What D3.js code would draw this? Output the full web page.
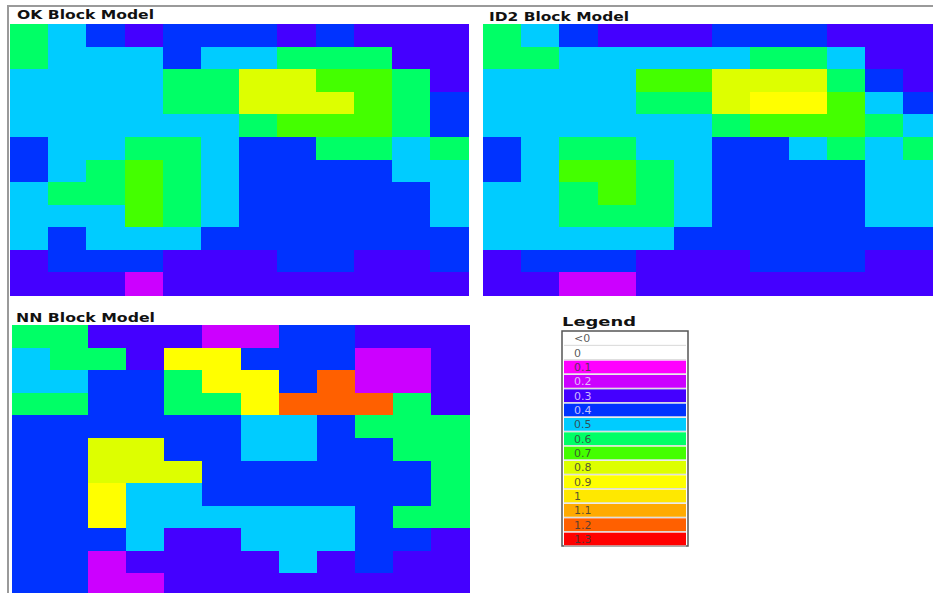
<!DOCTYPE html>
<html>
<head>
<meta charset="utf-8">
<script src="https://cdn.jsdelivr.net/npm/d3@7"></script>
<style>
  body { margin: 0; background: #fff; }
  svg { display: block; }
  .title { font-family: "DejaVu Sans", sans-serif; font-weight: bold; fill: #111; }
  .legend-label { font-family: "DejaVu Sans", sans-serif; font-size: 11px; }
</style>
</head>
<body>
<svg id="chart" width="933" height="593"></svg>
<script>
// grid categories (12 x 12 blocks)
const cols = d3.range(12)
const rows = d3.range(12)

// legend classes, top to bottom
const legendLabels = ['<0', '0', '0.1', '0.2', '0.3', '0.4', '0.5', '0.6', '0.7', '0.8', '0.9', '1', '1.1', '1.2', '1.3']
const legendColors = ['#ffffff', '#ffffff', '#ff00ff', '#cc00ff', '#4400ff', '#0033ff', '#00ccff', '#00ff66',
  '#44ff00', '#ddff00', '#ffff00', '#ffe800', '#ffaa00', '#ff6000', '#ff0000']

// block values, one row per array
const okValues = [
  [0.6, 0.5, 0.4, 0.3, 0.4, 0.4, 0.4, 0.3, 0.4, 0.3, 0.3, 0.3],
  [0.6, 0.5, 0.5, 0.5, 0.4, 0.5, 0.5, 0.6, 0.6, 0.6, 0.3, 0.3],
  [0.5, 0.5, 0.5, 0.5, 0.6, 0.6, 0.8, 0.8, 0.7, 0.7, 0.6, 0.3],
  [0.5, 0.5, 0.5, 0.5, 0.6, 0.6, 0.8, 0.8, 0.8, 0.7, 0.6, 0.4],
  [0.5, 0.5, 0.5, 0.5, 0.5, 0.5, 0.6, 0.7, 0.7, 0.7, 0.6, 0.4],
  [0.4, 0.5, 0.5, 0.6, 0.6, 0.5, 0.4, 0.4, 0.6, 0.6, 0.5, 0.6],
  [0.4, 0.5, 0.6, 0.7, 0.6, 0.5, 0.4, 0.4, 0.4, 0.4, 0.5, 0.5],
  [0.5, 0.6, 0.6, 0.7, 0.6, 0.5, 0.4, 0.4, 0.4, 0.4, 0.4, 0.5],
  [0.5, 0.5, 0.5, 0.7, 0.6, 0.5, 0.4, 0.4, 0.4, 0.4, 0.4, 0.5],
  [0.5, 0.4, 0.5, 0.5, 0.5, 0.4, 0.4, 0.4, 0.4, 0.4, 0.4, 0.4],
  [0.3, 0.4, 0.4, 0.4, 0.3, 0.3, 0.3, 0.4, 0.4, 0.3, 0.3, 0.4],
  [0.3, 0.3, 0.3, 0.2, 0.3, 0.3, 0.3, 0.3, 0.3, 0.3, 0.3, 0.3]
]

const id2Values = [
  [0.6, 0.5, 0.4, 0.3, 0.3, 0.3, 0.4, 0.4, 0.4, 0.3, 0.3, 0.3],
  [0.6, 0.6, 0.5, 0.5, 0.5, 0.5, 0.5, 0.6, 0.6, 0.5, 0.3, 0.3],
  [0.5, 0.5, 0.5, 0.5, 0.7, 0.7, 0.8, 0.8, 0.8, 0.6, 0.4, 0.3],
  [0.5, 0.5, 0.5, 0.5, 0.6, 0.6, 0.8, 0.9, 0.9, 0.7, 0.5, 0.4],
  [0.5, 0.5, 0.5, 0.5, 0.5, 0.5, 0.6, 0.7, 0.7, 0.7, 0.6, 0.5],
  [0.4, 0.5, 0.6, 0.6, 0.5, 0.5, 0.4, 0.4, 0.5, 0.6, 0.5, 0.6],
  [0.4, 0.5, 0.7, 0.7, 0.6, 0.5, 0.4, 0.4, 0.4, 0.4, 0.5, 0.5],
  [0.5, 0.5, 0.6, 0.7, 0.6, 0.5, 0.4, 0.4, 0.4, 0.4, 0.5, 0.5],
  [0.5, 0.5, 0.6, 0.6, 0.6, 0.5, 0.4, 0.4, 0.4, 0.4, 0.5, 0.5],
  [0.5, 0.5, 0.5, 0.5, 0.5, 0.4, 0.4, 0.4, 0.4, 0.4, 0.4, 0.4],
  [0.3, 0.4, 0.4, 0.4, 0.3, 0.3, 0.3, 0.4, 0.4, 0.4, 0.3, 0.3],
  [0.3, 0.3, 0.2, 0.2, 0.3, 0.3, 0.3, 0.3, 0.3, 0.3, 0.3, 0.3]
]

const nnValues = [
  [0.6, 0.6, 0.3, 0.3, 0.3, 0.2, 0.2, 0.4, 0.4, 0.3, 0.3, 0.3],
  [0.5, 0.6, 0.6, 0.3, 0.9, 0.9, 0.4, 0.4, 0.4, 0.2, 0.2, 0.3],
  [0.5, 0.5, 0.4, 0.4, 0.6, 0.9, 0.9, 0.4, 1.2, 0.2, 0.2, 0.3],
  [0.6, 0.6, 0.4, 0.4, 0.6, 0.6, 0.9, 1.2, 1.2, 1.2, 0.6, 0.3],
  [0.4, 0.4, 0.4, 0.4, 0.4, 0.4, 0.5, 0.5, 0.4, 0.6, 0.6, 0.6],
  [0.4, 0.4, 0.8, 0.8, 0.4, 0.4, 0.5, 0.5, 0.4, 0.4, 0.6, 0.6],
  [0.4, 0.4, 0.8, 0.8, 0.8, 0.4, 0.4, 0.4, 0.4, 0.4, 0.4, 0.6],
  [0.4, 0.4, 0.9, 0.5, 0.5, 0.4, 0.4, 0.4, 0.4, 0.4, 0.4, 0.6],
  [0.4, 0.4, 0.9, 0.5, 0.5, 0.5, 0.5, 0.5, 0.5, 0.4, 0.6, 0.6],
  [0.4, 0.4, 0.4, 0.5, 0.3, 0.3, 0.5, 0.5, 0.5, 0.4, 0.4, 0.3],
  [0.4, 0.4, 0.2, 0.3, 0.3, 0.3, 0.3, 0.5, 0.3, 0.4, 0.3, 0.3],
  [0.4, 0.4, 0.2, 0.2, 0.3, 0.3, 0.3, 0.3, 0.3, 0.3, 0.3, 0.3]
]

const color = d3.scaleOrdinal().domain(legendLabels).range(legendColors)

const svg = d3.select('#chart')

// grey frame on the top and the left
svg.append('path')
  .attr('d', 'M8,593V6H933')
  .attr('fill', 'none')
  .attr('stroke', '#9a9a9a')
  .attr('stroke-width', 2)

renderPanel('OK Block Model', okValues, { x0: 10, x1: 468.5, y0: 24, y1: 295, tx: 17, ty: 18.5, tw: 137 })
renderPanel('ID2 Block Model', id2Values, { x0: 483, x1: 941.5, y0: 24, y1: 295, tx: 489, ty: 20.5, tw: 140 })
renderPanel('NN Block Model', nnValues, { x0: 11.5, x1: 469.5, y0: 325, y1: 596, tx: 16, ty: 322, tw: 139 })
renderLegend()

function renderPanel (title, values, box) {
  const x = d3.scaleBand().domain(cols).range([box.x0, box.x1])
  const y = d3.scaleBand().domain(rows).range([box.y0, box.y1])

  const cells = values.flatMap((row, r) => row.map((v, c) => ({ r, c, v })))

  const g = svg.append('g').attr('class', 'panel')

  g.selectAll('rect')
    .data(cells)
    .enter()
    .append('rect')
    .attr('x', d => x(d.c))
    .attr('y', d => y(d.r))
    .attr('width', x.bandwidth() + 0.5)
    .attr('height', y.bandwidth() + 0.5)
    .attr('fill', d => color(String(d.v)))
    .attr('shape-rendering', 'crispEdges')

  g.append('text')
    .attr('class', 'title')
    .attr('x', box.tx)
    .attr('y', box.ty)
    .attr('font-size', 11.5)
    .attr('textLength', box.tw)
    .attr('lengthAdjust', 'spacingAndGlyphs')
    .text(title)
}

function renderLegend () {
  const left = 562
  const right = 688
  const y = d3.scaleBand().domain(legendLabels).range([331, 546])

  const g = svg.append('g').attr('class', 'legend')

  g.append('text')
    .attr('class', 'title')
    .attr('x', left)
    .attr('y', 326)
    .attr('font-size', 13)
    .attr('textLength', 74)
    .attr('lengthAdjust', 'spacingAndGlyphs')
    .text('Legend')

  g.append('rect')
    .attr('x', left)
    .attr('y', 331)
    .attr('width', right - left)
    .attr('height', 215)
    .attr('fill', '#fff')
    .attr('stroke', '#555')
    .attr('stroke-width', 1.5)

  const items = g.selectAll('g.item')
    .data(legendLabels)
    .enter()
    .append('g')
    .attr('class', 'item')

  items.append('rect')
    .attr('x', left + 2)
    .attr('y', d => y(d) + 1)
    .attr('width', right - left - 4)
    .attr('height', y.bandwidth() - 1.5)
    .attr('fill', d => color(d))

  items.append('line')
    .attr('x1', left + 2)
    .attr('x2', right - 2)
    .attr('y1', d => y(d) + y.bandwidth())
    .attr('y2', d => y(d) + y.bandwidth())
    .attr('stroke', '#d8d8d8')
    .attr('stroke-width', 1)

  items.append('text')
    .attr('class', 'legend-label')
    .attr('x', left + 12)
    .attr('y', d => y(d) + y.bandwidth() / 2 + 4)
    .attr('fill', d => (d === '0.2' || d === '0.3' || d === '0.4') ? '#eadcff' : '#3a3a3a')
    .attr('fill-opacity', 0.85)
    .text(d => d)
}
</script>
</body>
</html>
